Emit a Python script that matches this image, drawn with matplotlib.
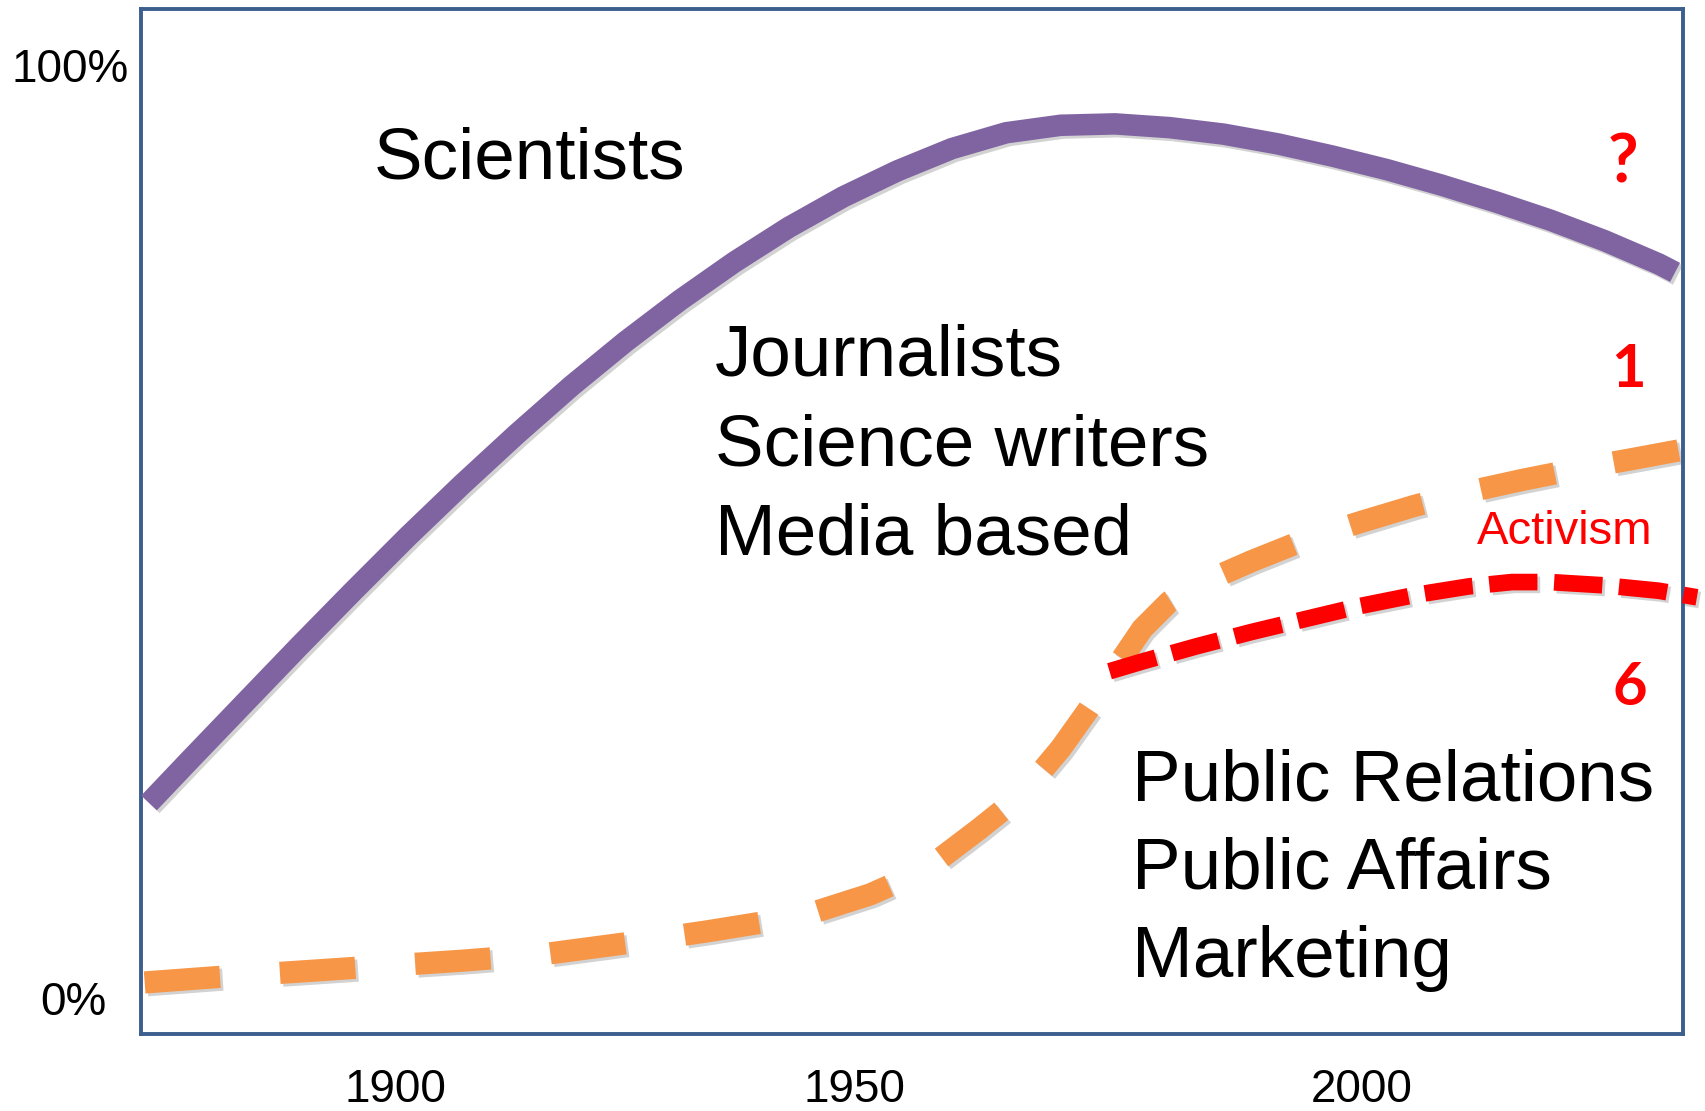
import matplotlib
matplotlib.use("Agg")
import matplotlib.pyplot as plt
import matplotlib.patheffects as pe
from matplotlib.transforms import ScaledTranslation, blended_transform_factory

# ---- data ----
sci_years = [1874.53, 1878.81, 1884.43, 1890.06, 1895.69, 1901.31, 1906.94, 1912.56,
             1918.19, 1923.81, 1929.44, 1935.06, 1940.69, 1946.32, 1951.94, 1957.57,
             1963.19, 1968.82, 1974.44, 1980.07, 1985.69, 1991.32, 1996.94, 2002.57,
             2008.20, 2013.82, 2019.45, 2025.07, 2030.70, 2032.38]
sci_vals = [20.99, 25.65, 31.71, 37.77, 43.71, 49.53, 55.12, 60.48,
            65.61, 70.38, 74.81, 78.89, 82.61, 85.88, 88.67, 91.05,
            92.75, 93.55, 93.70, 93.30, 92.60, 91.55, 90.25, 88.80,
            87.15, 85.35, 83.40, 81.20, 78.70, 77.80]

jour_years = [1874.08, 1881.62, 1890.06, 1898.50, 1906.94, 1915.38, 1923.81, 1932.25,
              1937.88, 1943.50, 1949.13, 1954.75, 1960.38, 1963.19, 1966.00, 1968.82,
              1971.63, 1974.44, 1977.26, 1980.07, 1982.88, 1988.51, 1994.14, 1999.76,
              2005.39, 2011.01, 2016.63, 2022.26, 2027.89, 2032.73]
jour_vals = [1.77, 2.35, 2.93, 3.52, 4.10, 4.80, 5.96, 7.24,
             8.18, 9.34, 11.20, 13.77, 18.19, 20.52, 23.32, 26.81,
             30.89, 35.32, 39.63, 42.54, 44.29, 46.85, 49.18, 51.04,
             52.79, 54.31, 55.59, 56.75, 57.80, 58.73]

act_years = [1973.88, 1977.26, 1982.88, 1988.51, 1994.14, 1999.76, 2005.39,
             2011.01, 2015.51, 2019.45, 2025.07, 2030.70, 2034.64]
act_vals = [35.09, 36.13, 37.76, 39.28, 40.68, 42.07, 43.24,
            44.17, 44.64, 44.64, 44.29, 43.71, 43.01]

xtick_pos = [1900, 1947.5, 2000]
xtick_labels = ["1900", "1950", "2000"]
ytick_vals = [0, 100]
ytick_labels = ["0%", "100%"]

group_labels = ["Scientists",
                "Journalists", "Science writers", "Media based",
                "Public Relations", "Public Affairs", "Marketing"]
group_pos = [(1897.8, 87.8),
             (1933.1, 66.8), (1933.1, 57.1), (1933.1, 47.6),
             (1976.2, 21.3), (1976.2, 11.8), (1976.2, 2.3)]

red_marks = ["?", "1", "6"]
red_pos = [(2027.0, 87.4), (2027.55, 65.5), (2027.66, 31.5)]
red_sizes = [48, 43, 43]

# ---- figure ----
W, H, DPI = 1706, 1111, 100
fig = plt.figure(figsize=(W / DPI, H / DPI), dpi=DPI)
ax = fig.add_axes([141 / W, (H - 1034) / H, 1542 / W, 1025 / H])
ax.set_xlim(1873.7, 2033.2)
ax.set_ylim(-3.75, 106.0)

frame_col = "#3C5F8E"
for s in ax.spines.values():
    s.set_color(frame_col)
    s.set_linewidth(2.8)
ax.set_xticks([])
ax.set_yticks([])

shadow = [pe.SimpleLineShadow(offset=(2, -2), shadow_color="gray", alpha=0.35), pe.Normal()]

ax.plot(sci_years, sci_vals, color="#8064A2", lw=15.5, solid_capstyle="butt",
        solid_joinstyle="round", path_effects=shadow, zorder=3)
ax.plot(jour_years, jour_vals, color="#F79646", lw=16, dashes=(3.4, 2.7),
        dash_capstyle="butt", dash_joinstyle="round", path_effects=shadow, zorder=2)
ax.plot(act_years, act_vals, color="#FF0000", lw=12, dashes=(2.9, 1.0),
        dash_capstyle="butt", dash_joinstyle="round", path_effects=shadow, zorder=4,
        clip_on=False)

# group labels
for lab, (x, y) in zip(group_labels, group_pos):
    ax.text(x, y, lab, fontsize=52.5, family="Liberation Sans", color="black",
            ha="left", va="baseline", zorder=5)

# red annotations
for lab, (x, y), fs in zip(red_marks, red_pos, red_sizes):
    ax.text(x, y, lab, fontsize=fs, family="Lato", fontweight="bold", color="#FF0000",
            ha="center", va="baseline", zorder=5)
ax.text(2030.0, 48.7, "Activism", fontsize=34, family="Liberation Sans",
        color="#FF0000", ha="right", va="baseline", zorder=5)

# y tick labels
ytrans = blended_transform_factory(ax.transAxes, ax.transData)
y_offsets_px = [-34.4, -12.6]
for v, lab, dx in zip(ytick_vals, ytick_labels, y_offsets_px):
    t = ytrans + ScaledTranslation(dx / DPI, -16.5 / DPI, fig.dpi_scale_trans)
    ax.text(0, v, lab, transform=t, fontsize=33, family="Liberation Sans",
            ha="right", va="baseline", clip_on=False)

# x tick labels
xtrans = blended_transform_factory(ax.transData, ax.transAxes)
for p, lab in zip(xtick_pos, xtick_labels):
    ax.text(p, -0.066, lab, transform=xtrans, fontsize=33, family="Liberation Sans",
            ha="center", va="baseline", clip_on=False)

fig.savefig("out.png", dpi=DPI)
